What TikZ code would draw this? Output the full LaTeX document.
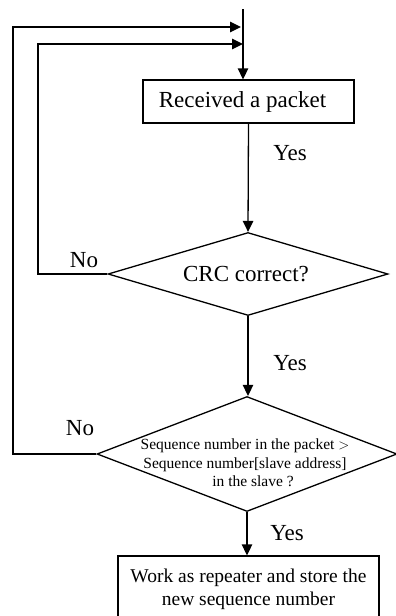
\documentclass[tikz,border=0pt]{standalone}
\usepackage{fontspec}
\setmainfont{Liberation Serif}
\usetikzlibrary{arrows.meta,shapes.geometric}
\tikzset{
  conn/.style={line width=1.3pt, -{Triangle[length=11pt,width=10.5pt]}},
  box/.style={draw, line width=1.3pt, rectangle, inner sep=0pt, align=center},
  dia/.style={draw, line width=1.3pt, diamond, inner sep=0pt},
  big/.style={font=\fontsize{23}{27}\selectfont},
  mid/.style={font=\fontsize{19.5}{23}\selectfont},
  small/.style={font=\fontsize{15.5}{18.5}\selectfont},
  lab/.style={big, inner sep=0pt}
}
\begin{document}
\begin{tikzpicture}[x=1pt,y=-1pt]
\useasboundingbox (0,0) rectangle (396,616);
\begin{scope}
\clip (0,0) rectangle (396,616);
% nodes
\coordinate (in) at (243,9);
\node[box, big, minimum width=211pt, minimum height=43pt] (b1) at (248.5,101.5) {Received a packet\hspace{12pt}};
\node[dia, minimum width=280pt, minimum height=83pt] (d1) at (248,274) {};
\node[big] (t1) at (246,274) {CRC correct?};
\node[dia, minimum width=300pt, minimum height=115pt] (d2) at (247,454) {};
\node[small, align=center, inner sep=0pt] (t2) at (245,463) {Sequence number in the packet $>$\\Sequence number[slave address]\\\hspace*{16pt}in the slave ?};
\node[box, mid, minimum width=261pt, minimum height=66pt] (b2) at (248.5,589) {Work as repeater and store the\\new sequence number};
% labels
\node[lab] (y1) at (290,153) {Yes};
\node[lab] (y2) at (290,363) {Yes};
\node[lab] (y3) at (287,533) {Yes};
\node[lab] (n1) at (84,260) {No};
\node[lab] (n2) at (80,428) {No};
% loop corners
\coordinate (c2) at (38,44);
\coordinate (c4) at (13,27);
% connectors
\draw[conn] (in) -- (in |- b1.north);
\draw[conn] (b1.south) -- (d1.north);
\draw[conn] (d1.south) -- (d1.south |- d2.north);
\draw[conn] (d2.south) -- (d2.south |- b2.north);
\draw[conn] (d1.west) -| (c2) -- (c2 -| in);
\draw[conn] (d2.west) -| (c4) -- ([xshift=-2pt]c4 -| in);
\end{scope}
\end{tikzpicture}
\end{document}
